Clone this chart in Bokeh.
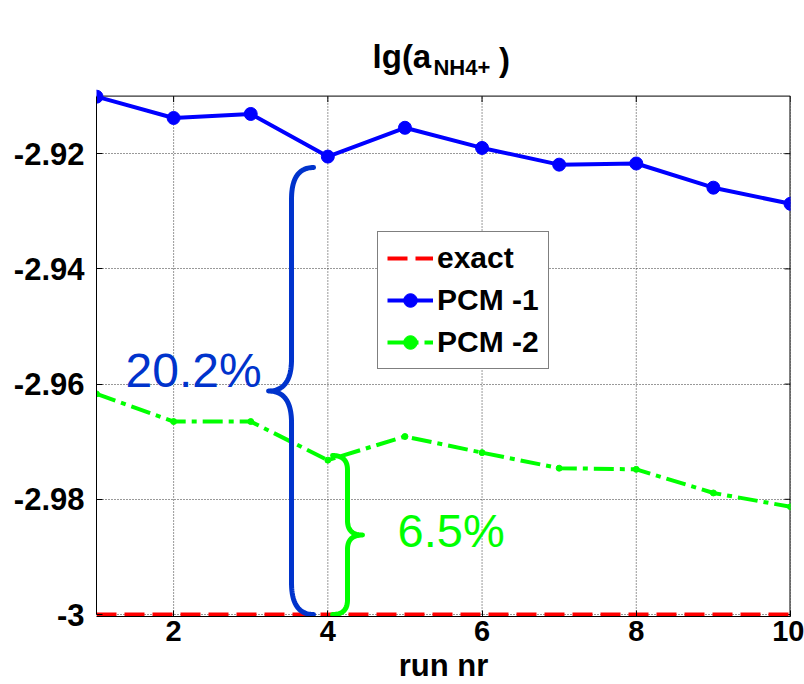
import numpy as np
from bokeh.plotting import figure
from bokeh.models import (Range1d, FixedTicker, Legend, LegendItem, Label)
from bokeh.embed import file_html
from bokeh.resources import INLINE

# ---------------- data ----------------
runs = [1, 2, 3, 4, 5, 6, 7, 8, 9, 10]
exact = [-3.0, -3.0, -3.0, -3.0, -3.0, -3.0, -3.0, -3.0, -3.0, -3.0]
pcm1 = [-2.9101, -2.9138, -2.9131, -2.9205, -2.9155, -2.9190, -2.9219, -2.9217, -2.9259, -2.9287]
pcm2 = [-2.9617, -2.9665, -2.9665, -2.9732, -2.9691, -2.9719, -2.9746, -2.9748, -2.9789, -2.9813]

x_ticks = [2, 4, 6, 8, 10]
y_ticks = [-3.0, -2.98, -2.96, -2.94, -2.92]
y_tick_labels = ["-3", "-2.98", "-2.96", "-2.94", "-2.92"]
series_names = ["exact", "PCM -1", "PCM -2"]
gap_labels = ["20.2%", "6.5%"]
title_parts = ["lg(a", "NH4+", ")"]
x_label = "run nr"

FONT = "Liberation Sans"
BLUE = "#0000ff"
GREEN = "#00ff00"
RED = "#ff0000"
BRACE_BLUE = "#0033cc"
GRID = "#333333"

# axes box (data) and layout
X0, X1 = 1, 10
BOX_Y0, BOX_Y1 = -3.0, -2.91
FW = 694
PX = 5760.0              # pixels per y unit
FH = 606                 # frame reaches up into the title area
Y0 = BOX_Y0 - 2 / PX     # 2px pad so the -3 line is not cut
YT = Y0 + FH / PX

p = figure(frame_width=FW, frame_height=FH, title=None,
           x_range=Range1d(X0, X1), y_range=Range1d(Y0, YT),
           output_backend="svg", toolbar_location=None,
           min_border_left=96, min_border_top=10, min_border_right=14,
           min_border_bottom=60, background_fill_color="white",
           border_fill_color="white")
p.outline_line_color = None

# axes
for ax in (p.xaxis[0], p.yaxis[0]):
    ax.axis_line_color = "black"
    ax.major_tick_in = 6
    ax.major_tick_out = 0
    ax.minor_tick_in = 0
    ax.minor_tick_out = 0
    ax.major_tick_line_color = "black"
    ax.major_label_text_font = FONT
    ax.major_label_text_font_style = "bold"
    ax.major_label_text_color = "black"

p.xaxis.ticker = FixedTicker(ticks=x_ticks)
p.xaxis.major_label_text_font_size = "29px"
p.xaxis.major_label_standoff = 4
p.xaxis.axis_label = x_label
p.xaxis.axis_label_text_font = FONT
p.xaxis.axis_label_text_font_style = "bold"
p.xaxis.axis_label_text_font_size = "31px"
p.xaxis.axis_label_standoff = 4
p.xaxis.axis_label_text_color = "black"

p.yaxis.ticker = FixedTicker(ticks=y_ticks)
p.yaxis.bounds = (BOX_Y0, BOX_Y1)
p.yaxis.major_label_text_font_size = "31px"
p.yaxis.major_label_overrides = {t: s for t, s in zip(y_ticks, y_tick_labels)}
p.yaxis.major_label_standoff = 12

# grid: horizontal lines from the grid model, vertical ones limited to the axes box
p.xgrid.visible = False
p.ygrid.ticker = FixedTicker(ticks=y_ticks)
p.ygrid.grid_line_color = GRID
p.ygrid.grid_line_dash = "1 2"
p.ygrid.grid_line_width = 1
p.segment(x0=x_ticks, y0=[BOX_Y0] * len(x_ticks), x1=x_ticks, y1=[BOX_Y1] * len(x_ticks),
          line_color=GRID, line_width=1, line_dash="1 2", level="underlay")

# top and right edges of the axes box, with inward ticks
dx = 6 * (X1 - X0) / FW
dy = 6 / PX
p.segment(x0=[X0, X1], y0=[BOX_Y1, Y0], x1=[X1, X1], y1=[BOX_Y1, BOX_Y1],
          line_color="black", line_width=[1, 2])
p.segment(x0=[X1] * len(y_ticks), y0=y_ticks, x1=[X1 - dx] * len(y_ticks), y1=y_ticks,
          line_color="black", line_width=1)
p.segment(x0=x_ticks, y0=[BOX_Y1] * len(x_ticks), x1=x_ticks, y1=[BOX_Y1 - dy] * len(x_ticks),
          line_color="black", line_width=1)

# series
r_exact = p.line(runs, exact, line_color=RED, line_width=4, line_dash="20 8")
r1l = p.line(runs, pcm1, line_color=BLUE, line_width=4)
r1m = p.scatter(runs, pcm1, size=13, marker="circle", fill_color=BLUE, line_color=BLUE)
r2l = p.line(runs, pcm2, line_color=GREEN, line_width=4, line_dash="20 6 5 6")
r2m = p.scatter(runs, pcm2, size=6, marker="circle", fill_color=GREEN, line_color=GREEN)


# braces built from the data at run 4
def quad(p0, c, p1, n=30):
    t = np.linspace(0, 1, n)[:, None]
    p0, c, p1 = np.array(p0), np.array(c), np.array(p1)
    return (1 - t) ** 2 * p0 + 2 * (1 - t) * t * c + t ** 2 * p1


def brace(x_end, x_mid, x_tip, y_lo, y_hi, r):
    ym = (y_lo + y_hi) / 2
    parts = [
        quad((x_end, y_hi), (x_mid, y_hi), (x_mid, y_hi - r)),
        quad((x_mid, ym + r), (x_mid, ym), (x_tip, ym)),
        quad((x_tip, ym), (x_mid, ym), (x_mid, ym - r)),
        quad((x_mid, y_lo + r), (x_mid, y_lo), (x_end, y_lo)),
    ]
    pts = np.vstack(parts)
    return pts[:, 0], pts[:, 1]


i = 3
bx, by = brace(runs[i] - 0.185, runs[i] - 0.471, runs[i] - 0.769,
               exact[i], pcm1[i] - 0.0019, 0.0055)
p.line(bx, by, line_color=BRACE_BLUE, line_width=5, line_cap="round", line_join="round")
gx, gy = brace(runs[i] + 0.061, runs[i] + 0.255, runs[i] + 0.45,
               exact[i], pcm2[i] + 0.0008, 0.0025)
p.line(gx, gy, line_color=GREEN, line_width=5, line_cap="round", line_join="round")

p.add_layout(Label(x=1.376, y=-2.95764, text=gap_labels[0], text_font=FONT,
                   text_font_size="48px", text_color=BRACE_BLUE, text_baseline="alphabetic"))
p.add_layout(Label(x=4.904, y=-2.98542, text=gap_labels[1], text_font=FONT,
                   text_font_size="47px", text_color=GREEN, text_baseline="alphabetic"))

# title: lg(a_{NH4+}) placed above the axes box
p.add_layout(Label(x=4.58, y=BOX_Y1 + 40 / PX, text=title_parts[0], text_color="black",
                   text_font=FONT, text_font_style="bold", text_font_size="33px",
                   text_baseline="alphabetic"))
p.add_layout(Label(x=5.37, y=BOX_Y1 + 29 / PX, text=title_parts[1], text_color="black",
                   text_font=FONT, text_font_style="bold", text_font_size="22px",
                   text_baseline="alphabetic"))
p.add_layout(Label(x=6.22, y=BOX_Y1 + 37 / PX, text=title_parts[2], text_color="black",
                   text_font=FONT, text_font_style="bold", text_font_size="33px",
                   text_baseline="alphabetic"))

legend = Legend(items=[LegendItem(label=series_names[0], renderers=[r_exact]),
                       LegendItem(label=series_names[1], renderers=[r1l, r1m]),
                       LegendItem(label=series_names[2], renderers=[r2l, r2m])],
                location=(281, 247))
legend.label_text_font = FONT
legend.label_text_font_style = "bold"
legend.label_text_font_size = "30px"
legend.label_text_color = "black"
legend.label_height = 34
legend.glyph_height = 34
legend.glyph_width = 46
legend.label_standoff = 4
legend.padding = 9
legend.spacing = 8
legend.margin = 0
legend.border_line_color = "black"
legend.border_line_width = 1
legend.background_fill_color = "white"
legend.background_fill_alpha = 1
p.add_layout(legend, "center")

open("out.html", "w").write(file_html(p, INLINE))
